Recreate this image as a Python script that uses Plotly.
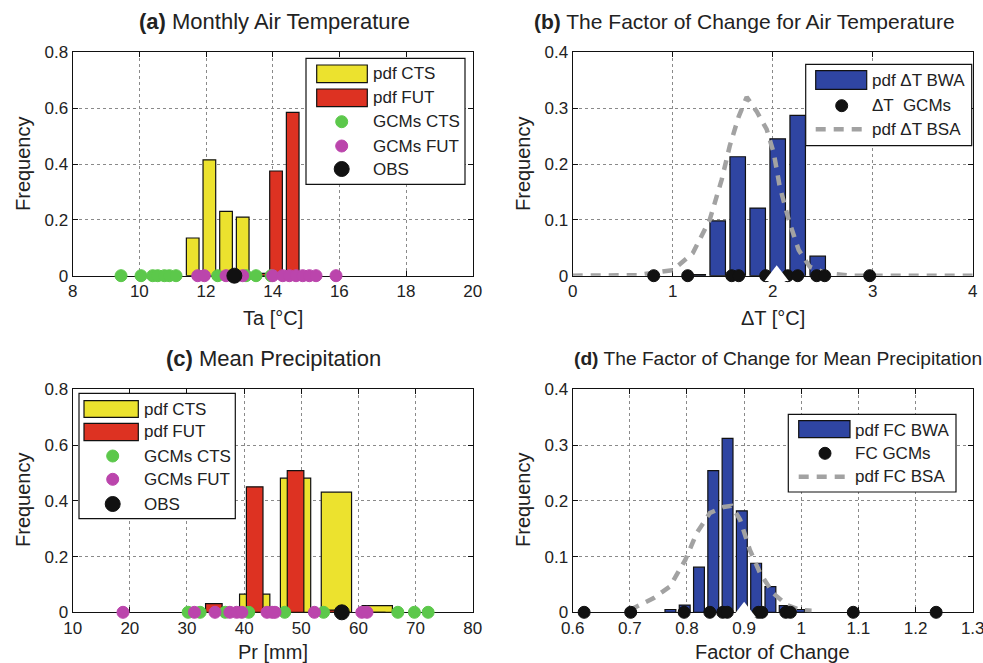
import plotly.graph_objects as go

# ---------------- data ----------------
# (a) Monthly air temperature
a_bin_cts = [11.6, 12.1, 12.6, 13.1]
a_pdf_cts = [0.135, 0.415, 0.23, 0.21]
a_bin_fut = [13.6, 14.1, 14.6, 15.1]
a_pdf_fut = [0.008, 0.375, 0.585, 0.006]
a_gcm_cts = [9.45, 10.05, 10.4, 10.55, 10.75, 10.9, 11.1, 12.35, 12.8, 13.2, 13.5, 13.95]
a_gcm_fut = [11.75, 11.95, 12.6, 13.1, 14.0, 14.3, 14.5, 14.7, 14.9, 15.1, 15.3, 15.9]
a_obs = [12.85]

# (b) factor of change for air temperature
b_bin = [1.25, 1.45, 1.65, 1.85, 2.05, 2.25, 2.45]
b_pdf_bwa = [0.002, 0.098, 0.213, 0.121, 0.245, 0.287, 0.035]
b_gcms = [0.81, 1.15, 1.59, 1.66, 1.93, 2.15, 2.25, 2.44, 2.52, 2.97]
b_bsa_x = [0.0, 0.64, 1.0, 1.2, 1.37, 1.49, 1.57, 1.66, 1.74, 1.84, 1.94, 2.01, 2.07, 2.16, 2.26, 2.37, 2.54, 2.8, 4.0]
b_bsa_y = [0.0, 0.001, 0.010, 0.040, 0.100, 0.172, 0.232, 0.285, 0.320, 0.294, 0.262, 0.220, 0.160, 0.100, 0.046, 0.016, 0.004, 0.0, 0.0]
b_mean = [2.04]

# (c) mean precipitation
c_bin = [34.7, 41.85, 49.0, 56.15, 63.3]
c_pdf_cts = [0.0, 0.065, 0.481, 0.431, 0.024]
c_pdf_fut = [0.031, 0.45, 0.508, 0.008, 0.0]
c_gcm_cts = [30.2, 32.3, 36.7, 40.8, 47.1, 53.9, 66.9, 69.8, 72.2]
c_gcm_fut = [18.8, 31.3, 34.9, 37.5, 38.7, 39.6, 44.0, 44.9, 45.4, 52.3, 60.6, 61.5]
c_obs = [57.1]

# (d) factor of change for mean precipitation
d_bin = [0.771, 0.796, 0.821, 0.846, 0.871, 0.896, 0.921, 0.946, 0.971, 0.996]
d_pdf_bwa = [0.005, 0.013, 0.081, 0.254, 0.312, 0.182, 0.088, 0.046, 0.012, 0.005]
d_gcms = [0.62, 0.7015, 0.795, 0.84, 0.8625, 0.8705, 0.925, 0.931, 0.973, 0.981, 1.091, 1.236]
d_bsa_x = [0.70, 0.741, 0.770, 0.797, 0.817, 0.840, 0.864, 0.878, 0.893, 0.910, 0.928, 0.951, 0.975, 0.998, 1.018]
d_bsa_y = [0.004, 0.025, 0.046, 0.094, 0.142, 0.178, 0.189, 0.191, 0.166, 0.112, 0.070, 0.034, 0.013, 0.004, 0.003]
d_mean = [0.90]

# ticks
a_xticks = [8, 10, 12, 14, 16, 18, 20]
b_xticks = [0, 1, 2, 3, 4]
c_xticks = [10, 20, 30, 40, 50, 60, 70, 80]
d_xticks = [0.6, 0.7, 0.8, 0.9, 1.0, 1.1, 1.2, 1.3]
d_xticklabels = ["0.6", "0.7", "0.8", "0.9", "1", "1.1", "1.2", "1.3"]
yticks_big = [0, 0.2, 0.4, 0.6, 0.8]
yticks_small = [0, 0.1, 0.2, 0.3, 0.4]

# ---------------- style ----------------
W, H = 983, 663
FONT = "Liberation Sans, Arial, Helvetica, sans-serif"
YEL = "#ECE22E"
RED = "#DD3222"
GRN = "#5CC84B"
MAG = "#BB45AC"
BLU = "#2F45A2"
GRAY = "#A2A2A2"
BLK = "#111111"


def px(x):
    return x / W


def py(y):
    return 1 - y / H


fig = go.Figure()

# axis placement in pixels
boxes = {
    1: (72.7, 472.7, 52.3, 275.7),
    2: (572.7, 972.7, 52.3, 275.7),
    3: (72.7, 472.7, 389.3, 612.3),
    4: (572.7, 972.7, 389.3, 612.3),
}


def ax(i):
    return ("x" if i == 1 else f"x{i}"), ("y" if i == 1 else f"y{i}")


def markers(i, xs, color, size=12, name=""):
    xa, ya = ax(i)
    fig.add_trace(go.Scatter(x=xs, y=[0] * len(xs), mode="markers", xaxis=xa, yaxis=ya,
                             marker=dict(color=color, size=size, symbol="circle",
                                         line=dict(color=color, width=1)),
                             cliponaxis=False, showlegend=False, name=name))


def bars(i, xs, ys, color, width, name=""):
    xa, ya = ax(i)
    fig.add_trace(go.Bar(x=xs, y=ys, width=width, xaxis=xa, yaxis=ya,
                         marker=dict(color=color, line=dict(color="#111", width=1.2)),
                         showlegend=False, name=name))


def dline(i, xs, ys):
    xa, ya = ax(i)
    fig.add_trace(go.Scatter(x=xs, y=ys, mode="lines", xaxis=xa, yaxis=ya,
                             line=dict(color=GRAY, width=4.5, dash="10px,8px"),
                             cliponaxis=False, showlegend=False))


def tri(i, xs):
    xa, ya = ax(i)
    fig.add_trace(go.Scatter(x=xs, y=[0] * len(xs), mode="markers", xaxis=xa, yaxis=ya,
                             marker=dict(color="white", size=21, symbol="triangle-up",
                                         line=dict(width=0)),
                             cliponaxis=False, showlegend=False))


# (a)
bars(1, a_bin_cts, a_pdf_cts, YEL, 0.38, "pdf CTS")
bars(1, a_bin_fut, a_pdf_fut, RED, 0.38, "pdf FUT")
markers(1, a_gcm_cts, GRN)
markers(1, a_gcm_fut, MAG)
markers(1, a_obs, BLK, 15)

# (b)
bars(2, b_bin, b_pdf_bwa, BLU, 0.155, "pdf BWA")
dline(2, b_bsa_x, b_bsa_y)
markers(2, b_gcms, BLK, 12)
tri(2, b_mean)

# (c)
bars(3, c_bin, c_pdf_cts, YEL, 5.3, "pdf CTS")
bars(3, c_bin, c_pdf_fut, RED, 2.9, "pdf FUT")
markers(3, c_gcm_cts, GRN)
markers(3, c_gcm_fut, MAG)
markers(3, c_obs, BLK, 15)

# (d)
bars(4, d_bin, d_pdf_bwa, BLU, 0.019, "pdf BWA")
dline(4, d_bsa_x, d_bsa_y)
markers(4, d_gcms, BLK, 12)
tri(4, d_mean)

ranges = {1: ([8, 20], [0, 0.8], a_xticks, None, yticks_big),
          2: ([0, 4], [0, 0.4], b_xticks, None, yticks_small),
          3: ([10, 80], [0, 0.8], c_xticks, None, yticks_big),
          4: ([0.6, 1.3], [0, 0.4], d_xticks, d_xticklabels, yticks_small)}

common = dict(showline=True, linecolor="#111", linewidth=1.3, mirror="ticks",
              ticks="inside", ticklen=5, tickcolor="#111", tickwidth=1,
              showgrid=True, gridcolor="#8a8a8a", griddash="dot", gridwidth=1,
              zeroline=False, layer="below traces", ticklabeloverflow="allow",
              tickfont=dict(family=FONT, size=17, color="#222"), automargin=False)

layout = dict(width=W, height=H, margin=dict(l=0, r=0, t=0, b=0),
              plot_bgcolor="white", paper_bgcolor="white", barmode="overlay",
              showlegend=False, font=dict(family=FONT, color="#222"))
for i, (xl, xr, yt, yb) in boxes.items():
    xr_, yr_, xt, xtl, yti = ranges[i]
    xa = dict(common, domain=[px(xl), px(xr)], range=xr_, tickvals=xt,
              anchor=("y" if i == 1 else f"y{i}"))
    if xtl:
        xa["ticktext"] = xtl
    ya = dict(common, domain=[py(yb), py(yt)], range=yr_, tickvals=yti,
              anchor=("x" if i == 1 else f"x{i}"))
    layout["xaxis" if i == 1 else f"xaxis{i}"] = xa
    layout["yaxis" if i == 1 else f"yaxis{i}"] = ya
fig.update_layout(**layout)

ann = []


def text(x, y, s, size=17, xanchor="left", angle=0):
    ann.append(dict(x=px(x), y=py(y), xref="paper", yref="paper", text=s, showarrow=False,
                    xanchor=xanchor, yanchor="middle", textangle=angle,
                    font=dict(family=FONT, size=size, color="#222")))


# titles
text(274, 22, "<b>(a)</b> Monthly Air Temperature", 22, "center")
text(532, 22, "<b>(b)</b> The Factor of Change for Air Temperature", 21, "left")
text(273, 358, "<b>(c)</b> Mean Precipitation", 22, "center")
text(572, 358, "<b>(d)</b> The Factor of Change for Mean Precipitation", 19.2, "left")
# axis labels
text(272.7, 318, "Ta [°C]", 20, "center")
text(772.7, 318, "ΔT [°C]", 20, "center")
text(272.7, 652, "Pr [mm]", 20, "center")
text(772.7, 652, "Factor of Change", 20, "center")
for (xx, yy) in [(23, 164), (523, 164), (23, 500), (523, 500)]:
    text(xx, yy, "Frequency", 20, "center", -90)

shapes = []


def rect(x0, y0, x1, y1, fill, lw=1.2):
    shapes.append(dict(type="rect", xref="paper", yref="paper", x0=px(x0), x1=px(x1),
                       y0=py(y1), y1=py(y0), fillcolor=fill, line=dict(color="#111", width=lw)))


def dot(cx, cy, r, fill):
    shapes.append(dict(type="circle", xref="paper", yref="paper", x0=px(cx - r), x1=px(cx + r),
                       y0=py(cy + r), y1=py(cy - r), fillcolor=fill, line=dict(color=fill, width=1)))


def dash(x0, x1, y):
    shapes.append(dict(type="line", xref="paper", yref="paper", x0=px(x0), x1=px(x1),
                       y0=py(y), y1=py(y), line=dict(color=GRAY, width=4.5, dash="10px,8px")))


# legend (a)
rect(306, 58.3, 465, 184.3, "white", 1.2)
rect(316.7, 65, 367.3, 82.7, YEL)
rect(316.7, 89, 367.3, 106.7, RED)
dot(341.7, 121.7, 6, GRN)
dot(341.7, 146, 6, MAG)
dot(341.7, 169, 7.5, BLK)
text(371, 73.5, "pdf CTS")
text(371, 97.5, "pdf FUT")
text(371, 121.7, "GCMs CTS")
text(371, 146, "GCMs FUT")
text(371, 169, "OBS")

# legend (b)
rect(805.7, 64.3, 971.7, 145.7, "white", 1.2)
rect(815.7, 70.7, 866.7, 89.3, BLU)
dot(841.7, 105.7, 6, BLK)
dash(815.7, 866.7, 129.3)
text(870, 80, "pdf ΔT BWA")
text(870, 105.7, "ΔT  GCMs")
text(870, 129.3, "pdf ΔT BSA")

# legend (c)
rect(79, 393.3, 235.3, 518.7, "white", 1.2)
rect(84, 400.7, 138.3, 417.3, YEL)
rect(84, 423.3, 138.3, 440.7, RED)
dot(112.7, 456, 6, GRN)
dot(112.7, 479.3, 6, MAG)
dot(112.7, 504, 7.5, BLK)
text(142, 409.3, "pdf CTS")
text(142, 431.7, "pdf FUT")
text(142, 456, "GCMs CTS")
text(142, 479.3, "GCMs FUT")
text(142, 504, "OBS")

# legend (d)
rect(788.3, 414.3, 956, 492, "white", 1.2)
rect(798.7, 420.7, 850, 437.7, BLU)
dot(825, 453.3, 6, BLK)
dash(798.7, 850, 476.7)
text(853, 430, "pdf FC BWA")
text(853, 453.3, "FC GCMs")
text(853, 476.7, "pdf FC BSA")

fig.update_layout(annotations=ann, shapes=shapes)
fig.write_html("out.html", config={"displayModeBar": False},
               post_script="document.body.style.margin='0';document.body.style.padding='0';")
